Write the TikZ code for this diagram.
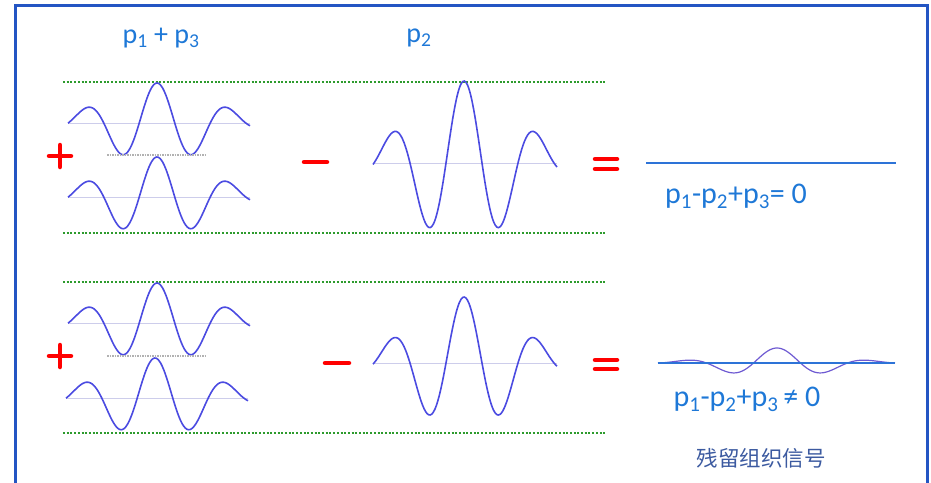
\documentclass[tikz,border=0pt]{standalone}
\usepackage{fontspec}
\setmainfont{Carlito}
\newfontfamily\cjk{Noto Sans CJK SC}
\usetikzlibrary{positioning}
\definecolor{frameblue}{RGB}{35,85,195}
\definecolor{waveblue}{RGB}{75,75,225}
\definecolor{baselav}{RGB}{205,205,235}
\definecolor{dotgreen}{RGB}{45,155,45}
\definecolor{textblue}{RGB}{30,120,215}
\definecolor{lineblue}{RGB}{45,115,215}
\definecolor{residual}{RGB}{110,90,210}
\definecolor{cjkblue}{RGB}{60,90,160}

\begin{document}
\begin{tikzpicture}[x=1pt, y=-1pt,
    wave/.style={waveblue, line width=1.6pt, smooth, samples=120},
    baseln/.style={baselav, line width=1pt},
    greendots/.style={dotgreen, line width=2.2pt, dash pattern=on 2pt off 1.7pt},
    graydots/.style={gray!60, line width=1.4pt, dash pattern=on 1.5pt off 1pt},
    opsign/.style={red, line width=4.5pt, line cap=round},
    label/.style={textblue, font=\fontsize{28}{32}\selectfont, inner sep=0pt},
    result/.style={textblue, font=\fontsize{30}{34}\selectfont, inner sep=0pt}]
    \useasboundingbox (0,0) rectangle (931,482);
    \clip (0,0) rectangle (931,482);
    % frame
    \draw[frameblue, line width=3pt] (15,5) rectangle (927,500);

    % headings
    \node[label] (sum) at (161,38) {p\textsubscript{1} + p\textsubscript{3}};
    \node[label] (mid) at (419,38) {p\textsubscript{2}};

    % green limits
    \foreach \y in {82,233,282,433}
        \draw[greendots] (63,\y) -- (606,\y);

    % p1 and p3 pulses
    \foreach \b/\c in {123/157,197/157,323/157,398/155} {
        \draw[baseln] (\c-89,\b) -- (\c+93,\b);
        \draw[wave] plot[domain=\c-89:\c+93]
            (\x, {\b - 40*cos((\x-\c)/71*360)*exp(-((\x-\c)/72)^2)});
    }
    \foreach \y in {155,356}
        \draw[graydots] (107,\y) -- (207,\y);

    % p2 pulses
    \foreach \b/\a in {163/82,363/66} {
        \draw[baseln] (373,\b) -- (557,\b);
        \draw[wave] plot[domain=373:557]
            (\x, {\b - \a*cos((\x-464)/72*360)*exp(-((\x-464)/72)^2)});
    }

    % signs
    \foreach \y in {156,356} {
        \draw[opsign] (49,\y) -- (71,\y);
        \draw[opsign] (60,\y-11) -- (60,\y+11);
    }
    \draw[opsign] (304,162) -- (327,162);
    \draw[opsign] (325,363) -- (349,363);
    \foreach \y in {159,169,360,369}
        \draw[opsign] (595,\y) -- (617,\y);

    % results
    \draw[lineblue, line width=1.4pt] (646,163) -- (896,163);
    \node[result] (zero) at (736,196) {p\textsubscript{1}-p\textsubscript{2}+p\textsubscript{3}= 0};
    \draw[residual, line width=1.2pt, smooth, samples=150] plot[domain=658:895]
        (\x, {363 - 15*cos((\x-777)/94*360)*exp(-((\x-777)/70)^2)});
    \draw[lineblue, line width=1.4pt] (658,363) -- (895,363);
    \node[result] (nonzero) at (747,399) {p\textsubscript{1}-p\textsubscript{2}+p\textsubscript{3}\,≠ 0};
    \node[cjkblue, font=\cjk\fontsize{21.5}{24}\selectfont, inner sep=0pt] (rest) at (761,458) {残留组织信号};
\end{tikzpicture}
\end{document}
